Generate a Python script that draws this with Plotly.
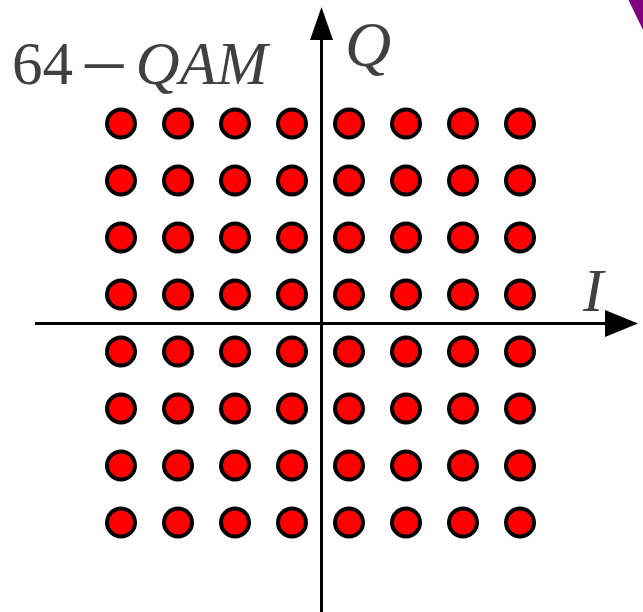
import plotly.graph_objects as go

# Data: 64-QAM constellation levels
i_levels = [-7, -5, -3, -1, 1, 3, 5, 7]
q_levels = [-7, -5, -3, -1, 1, 3, 5, 7]
title_text = ("64\u2009<span style='font-size:76px'>\u2013</span>\u2009<i>QAM</i>")
i_label = "<i>I</i>"
q_label = "<i>Q</i>"

I_pts = [i for q in q_levels for i in i_levels]
Q_pts = [q for q in q_levels for i in i_levels]

W, H = 643, 612
X0, Y0, S = 320.5, 323.0, 28.5

def dx(px):
    return (px - X0) / S

def dy(py):
    return (Y0 - py) / S

fig = go.Figure()
fig.add_trace(go.Scatter(
    x=I_pts, y=Q_pts, mode="markers",
    marker=dict(size=28, color="#ff0000", line=dict(color="#000000", width=4)),
    hoverinfo="skip", showlegend=False,
))

line_col = "#000000"
shapes = [
    # I axis line
    dict(type="line", x0=dx(35), x1=dx(607), y0=dy(323.5), y1=dy(323.5),
         line=dict(color=line_col, width=3), layer="below"),
    # I arrow head
    dict(type="path",
         path=f"M {dx(605)} {dy(310)} L {dx(638)} {dy(323.5)} L {dx(605)} {dy(337)} Z",
         fillcolor=line_col, line=dict(color=line_col, width=0)),
    # Q axis line
    dict(type="line", x0=dx(321.5), x1=dx(321.5), y0=dy(613), y1=dy(38),
         line=dict(color=line_col, width=3), layer="below"),
    # Q arrow head
    dict(type="path",
         path=f"M {dx(310)} {dy(40)} L {dx(321.5)} {dy(7)} L {dx(333)} {dy(40)} Z",
         fillcolor=line_col, line=dict(color=line_col, width=0)),
    # purple corner decoration
    dict(type="path",
         path=f"M {dx(628)} {dy(-1)} L {dx(644)} {dy(-1)} L {dx(644)} {dy(32)} Z",
         fillcolor="#800080", line=dict(color="#800080", width=0)),
]

font = dict(family="Liberation Serif", size=61, color="#404040")
annotations = [
    dict(x=dx(141), y=dy(58), text=title_text, showarrow=False,
         xanchor="center", yanchor="middle", font=font),
    dict(x=dx(368), y=dy(44), text=q_label, showarrow=False,
         xanchor="center", yanchor="middle",
         font=dict(family="Liberation Serif", size=64, color="#404040")),
    dict(x=dx(594), y=dy(290), text=i_label, showarrow=False,
         xanchor="center", yanchor="middle", font=font),
]

fig.update_layout(
    width=W, height=H,
    margin=dict(l=0, r=0, t=0, b=0),
    paper_bgcolor="white", plot_bgcolor="white",
    xaxis=dict(range=[dx(0), dx(W)], visible=False, fixedrange=True),
    yaxis=dict(range=[dy(H), dy(0)], visible=False, fixedrange=True),
    shapes=shapes, annotations=annotations,
)

fig.write_html("out.html", config={"displayModeBar": False},
               post_script="document.body.style.margin='0';document.body.style.overflow='hidden';")
